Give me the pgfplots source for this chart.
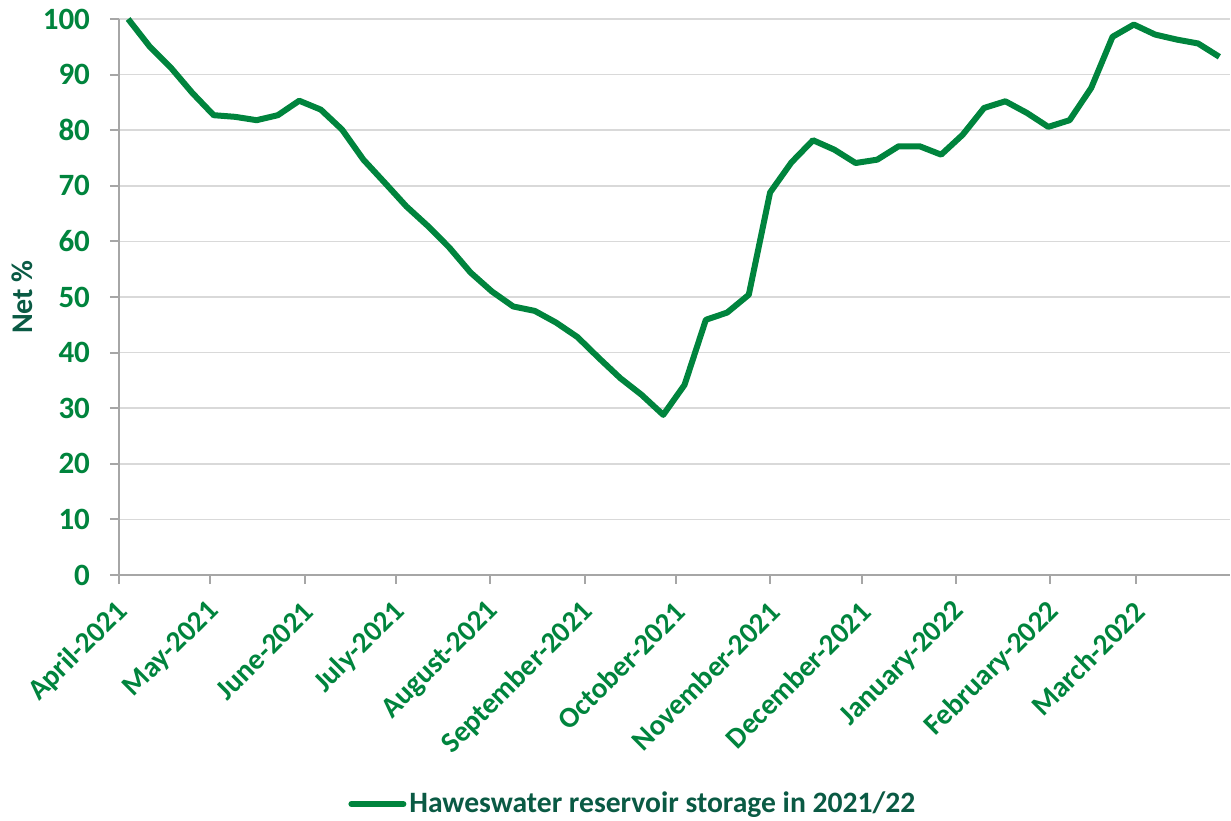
\documentclass[border=0pt]{standalone}
\usepackage{fontspec}
\setmainfont{Carlito}
\usepackage{pgfplots}
\pgfplotsset{compat=1.18}
\definecolor{lg}{RGB}{0,132,61}
\definecolor{dg}{RGB}{10,90,68}
\definecolor{axc}{RGB}{166,166,166}
\definecolor{grc}{RGB}{217,217,217}
\begin{document}
\begin{tikzpicture}
\useasboundingbox (-59.5pt,-122.5pt) rectangle (556pt,287.5pt);
\begin{axis}[
  at={(0,0)}, anchor=south west,
  width=555.5pt, height=278pt, scale only axis,
  xmin=0, xmax=365, ymin=0, ymax=100,
  axis x line*=bottom, axis y line*=left,
  xtick={0,30,61,91,122,153,183,214,244,275,306,334},
  xticklabels={April-2021,May-2021,June-2021,July-2021,August-2021,September-2021,October-2021,November-2021,December-2021,January-2022,February-2022,March-2022},
  ytick={0,10,...,100},
  ymajorgrids, grid style={grc, line width=0.75pt},
  axis line style={axc, line width=1pt},
  tick style={axc, line width=1pt},
  tick align=outside, major tick length=4.5pt,
  tick label style={font=\fontsize{15}{17}\selectfont\bfseries, text=lg},
  /pgf/number format/assume math mode=true,
  xticklabel style={font=\fontsize{14.6}{17}\selectfont\bfseries, xshift=4.5pt, yshift=-9pt, rotate=45, anchor=east},
  yticklabel style={font=\fontsize{15.5}{17}\selectfont\bfseries, xshift=-6.5pt},
  ylabel={Net \%},
  ylabel style={at={(axis description cs:-0.0873,0.5)}, anchor=center, font=\fontsize{15}{17}\selectfont\bfseries, text=dg},
  clip=false,
  legend style={at={(0.463,-0.412)}, anchor=center, draw=none, fill=none, font=\fontsize{14.8}{17}\selectfont\bfseries, text=dg, nodes={inner xsep=1.5pt}},
  legend image code/.code={\draw[#1, line cap=round, line width=3pt] (0pt,0pt) -- (26pt,0pt);},
]
\addplot[lg, line width=3pt, line join=round] table {
x y
3.0 100
10.0 95.1
17.1 91.2
24.1 86.7
31.1 82.7
38.2 82.4
45.2 81.8
52.2 82.7
59.2 85.3
66.3 83.7
73.3 80.1
80.3 74.7
87.4 70.5
94.4 66.3
101.4 62.8
108.5 58.9
115.5 54.4
122.5 51.0
129.5 48.3
136.6 47.5
143.6 45.4
150.6 42.8
157.7 39.0
164.7 35.4
171.7 32.4
178.8 28.8
185.8 34.2
192.8 45.9
199.8 47.2
206.9 50.4
213.9 68.8
220.9 74.2
228.0 78.2
235.0 76.5
242.0 74.1
249.1 74.7
256.1 77.1
263.1 77.1
270.1 75.6
277.2 79.2
284.2 84.0
291.2 85.2
298.3 83.1
305.3 80.6
312.3 81.8
319.4 87.6
326.4 96.8
333.4 99.0
340.4 97.2
347.5 96.3
354.5 95.6
361.5 93.2
};
\addlegendentry{Haweswater reservoir storage in 2021/22}
\end{axis}
\end{tikzpicture}
\end{document}
